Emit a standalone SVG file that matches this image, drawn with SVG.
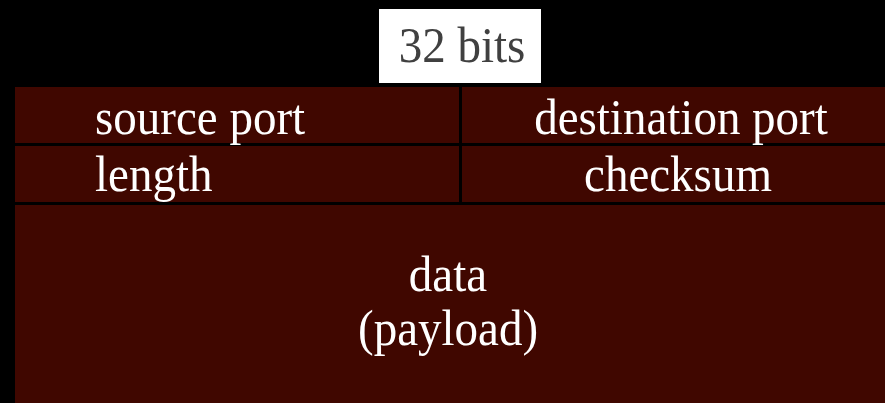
<svg xmlns="http://www.w3.org/2000/svg" width="885" height="403" viewBox="0 0 885 403">
<style>
.cell{fill:#400700;}
.t{font-family:"Liberation Serif","Times New Roman",serif;font-size:47px;fill:#ffffff;}
.c{text-anchor:middle;}
.ln{stroke:#000000;stroke-width:3;}
</style>
<rect x="0" y="0" width="885" height="403" fill="#000000"/>
<g id="title">
<rect x="379" y="9" width="162" height="74" fill="#ffffff"/>
<text class="t c" transform="translate(462,62) scale(1,1.08)" style="fill:#404040">32 bits</text>
</g>
<g id="source-port">
<rect class="cell" x="15" y="87" width="445" height="56"/>
<text class="t" transform="translate(95,134) scale(1,1.08)">source port</text>
</g>
<g id="destination-port">
<rect class="cell" x="462" y="87" width="423" height="56"/>
<text class="t c" transform="translate(681,134) scale(1,1.08)">destination port</text>
</g>
<g id="length">
<rect class="cell" x="15" y="146" width="445" height="56"/>
<text class="t" transform="translate(95,191) scale(1,1.08)">length</text>
</g>
<g id="checksum">
<rect class="cell" x="462" y="146" width="423" height="56"/>
<text class="t c" transform="translate(678,191) scale(1,1.08)">checksum</text>
</g>
<g id="data">
<rect class="cell" x="15" y="205" width="870" height="198"/>
<text class="t c" transform="translate(448,291) scale(1,1.08)">data</text>
<text class="t c" transform="translate(448,345) scale(1,1.08)">(payload)</text>
</g>
<g id="connectors">
<line class="ln" x1="460.5" y1="85" x2="460.5" y2="205"/>
</g>
</svg>
